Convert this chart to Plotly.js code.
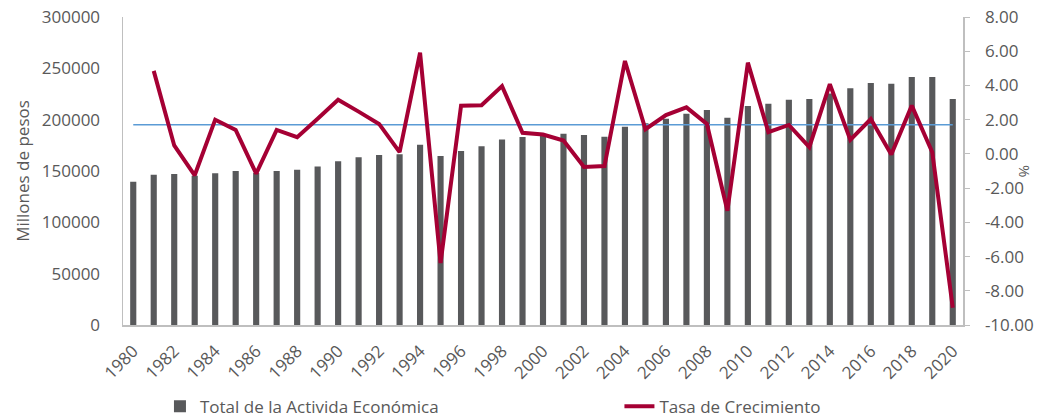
<!DOCTYPE html>
<html>
<head>
<meta charset="utf-8">
<script src="https://cdn.plot.ly/plotly-3.0.1.min.js"></script>
<style>html,body{margin:0;padding:0;background:#fff;}#chart{width:1039px;height:419px;}</style>
</head>
<body>
<div id="chart"></div>
<script>
const years = [1980,1981,1982,1983,1984,1985,1986,1987,1988,1989,1990,1991,1992,1993,1994,1995,1996,1997,1998,1999,2000,2001,2002,2003,2004,2005,2006,2007,2008,2009,2010,2011,2012,2013,2014,2015,2016,2017,2018,2019,2020];
const totalActividad = [139600,146400,147100,145400,147700,150000,148000,150000,151300,154500,159400,163300,165600,166200,175600,164600,169500,174000,180800,183100,185100,186300,185100,183400,193200,196400,201000,205800,209400,201900,213300,215600,219500,220100,225500,230500,235700,235000,241600,241600,220100];
const tasaCrecimiento = [null,4.85,0.49,-1.25,2.00,1.40,-1.15,1.40,0.98,2.05,3.16,2.47,1.75,0.10,5.91,-6.38,2.82,2.84,3.96,1.23,1.13,0.78,-0.77,-0.71,5.43,1.44,2.27,2.72,1.75,-3.32,5.33,1.27,1.69,0.40,4.08,0.82,2.04,-0.03,2.82,0.10,-8.99];
const promedioYears = [1980, 2020];
const promedioTasa = [1.70, 1.70];
const leftTicks = [0,50000,100000,150000,200000,250000,300000];
const rightTicks = [-10,-8,-6,-4,-2,0,2,4,6,8];
const xTicks = [1980,1982,1984,1986,1988,1990,1992,1994,1996,1998,2000,2002,2004,2006,2008,2010,2012,2014,2016,2018,2020];

const FONT = 'Open Sans, Lato, sans-serif';
const TXT = '#595959';

const traces = [
  {type:'bar', x:years, y:totalActividad, name:'Total de la Activida Económica',
   marker:{color:'#58595B'}, width:0.3, yaxis:'y', legend:'legend'},
  {type:'scatter', mode:'lines', x:promedioYears, y:promedioTasa, yaxis:'y2',
   line:{color:'#5B9BD5', width:1.5}, showlegend:false, hoverinfo:'skip'},
  {type:'scatter', mode:'lines', x:years, y:tasaCrecimiento, name:'Tasa de Crecimiento', yaxis:'y2',
   line:{color:'#A50034', width:4}, legend:'legend2'}
];

const legendFont = {family:FONT, size:17, color:TXT};
const layout = {
  width:1039, height:419,
  margin:{l:123, r:76, t:17, b:94, autoexpand:false},
  paper_bgcolor:'#fff', plot_bgcolor:'#fff',
  font:{family:FONT, size:17, color:TXT},
  showlegend:true,
  legend:{orientation:'h', x:0.044, xanchor:'left', y:-0.265, yanchor:'middle', font:legendFont},
  legend2:{orientation:'h', x:0.591, xanchor:'left', y:-0.265, yanchor:'middle', font:legendFont},
  xaxis:{range:[1979.5,2020.5], tickmode:'array', tickvals:xTicks, ticktext:xTicks.map(String),
         tickangle:-45, showgrid:false, zeroline:false, showline:true, linecolor:'#BFBFBF', linewidth:1.5,
         ticks:'', ticklabelstandoff:8, automargin:false, tickfont:{family:FONT, size:17, color:TXT}},
  yaxis:{range:[0,300000], tickmode:'array', tickvals:leftTicks, ticktext:leftTicks.map(String),
         showgrid:false, zeroline:false, showline:true, linecolor:'#BFBFBF', linewidth:1.5,
         ticks:'', ticklabelstandoff:18, automargin:false, tickfont:{family:FONT, size:17, color:TXT},
         title:{text:'Millones de pesos', font:{family:FONT, size:17, color:TXT}, standoff:8}},
  yaxis2:{range:[-10,8], overlaying:'y', side:'right', tickmode:'array', tickvals:rightTicks,
          ticktext:rightTicks.map(v=>v.toFixed(2)), automargin:false,
          showgrid:false, zeroline:false, showline:true, linecolor:'#BFBFBF', linewidth:1.5,
          ticks:'outside', ticklen:5, tickcolor:'#BFBFBF', ticklabelstandoff:12,
          tickfont:{family:FONT, size:17, color:TXT}},
  annotations:[{text:'%', xref:'paper', yref:'paper', x:1, y:0.5, xanchor:'left', yanchor:'middle',
                xshift:50, showarrow:false, textangle:90, font:{family:FONT, size:15, color:TXT}}]
};

Plotly.newPlot('chart', traces, layout, {displayModeBar:false, staticPlot:true});
</script>
</body>
</html>
